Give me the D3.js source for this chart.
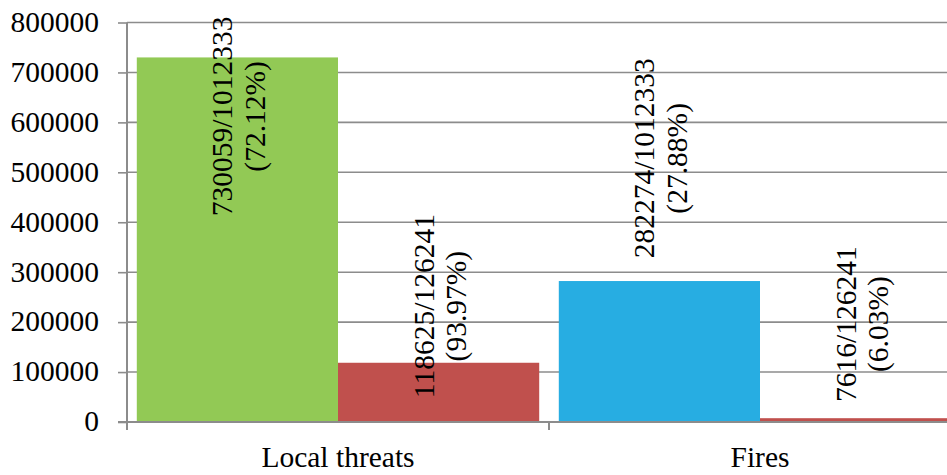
<!DOCTYPE html>
<html>
<head>
<meta charset="utf-8">
<script src="https://cdn.jsdelivr.net/npm/d3@7"></script>
<style>
  html, body { margin: 0; padding: 0; background: #fff; }
  svg { display: block; }
  text { font-family: "Liberation Serif", "Times New Roman", serif; fill: #000; }
</style>
</head>
<body>
<svg id="chart" width="947" height="475"></svg>
<script>
// Categories and the two counts per category
const categories = ["Local threats", "Fires"];
const seriesNames = ["all", "subset"];
const allCounts = [730059, 282274];      // out of 1012333
const subsetCounts = [118625, 7616];     // out of 126241
const yTicks = [0, 100000, 200000, 300000, 400000, 500000, 600000, 700000, 800000];

// Bar fills: first series per category, second series shared
const firstFills = ["#92c955", "#27ade2"];
const secondFill = "#c0504d";

// Where each rotated label is centred, in value units
const labelCentre = {
  all: [612000, 528000],
  subset: [232000, 196000]
};

const W = 947, H = 475;
const left = 127, zeroY = 422, topY = 22.5;
const serif = "'Liberation Serif', 'Times New Roman', serif";
const svg = d3.select("#chart");

const y = d3.scaleLinear().domain([0, 800000]).range([zeroY, topY]);
// The second category runs past the right edge of the frame
const x0 = d3.scaleBand().domain(categories).range([left, left + 2 * 422]).padding(0);
const x1 = d3.scaleBand().domain(seriesNames).range([0, x0.bandwidth()])
  .paddingInner(0).paddingOuter(0.0487);

const grey = "#8c8c8c";

// Horizontal gridlines
svg.append("g")
  .selectAll("line")
  .data(yTicks)
  .join("line")
  .attr("x1", left).attr("x2", W)
  .attr("y1", d => y(d)).attr("y2", d => y(d))
  .attr("stroke", grey).attr("stroke-width", 1.6);

// Rows for bars
const totals = [d3.sum(allCounts), d3.sum(subsetCounts)];
const rows = [];
categories.forEach((c, i) => {
  rows.push({ cat: c, s: "all", v: allCounts[i], total: totals[0], fill: firstFills[i], lc: labelCentre.all[i] });
  rows.push({ cat: c, s: "subset", v: subsetCounts[i], total: totals[1], fill: secondFill, lc: labelCentre.subset[i] });
});

svg.append("g")
  .selectAll("rect")
  .data(rows)
  .join("rect")
  .attr("x", d => x0(d.cat) + x1(d.s))
  .attr("width", x1.bandwidth())
  .attr("y", d => y(d.v))
  .attr("height", d => zeroY - y(d.v))
  .attr("fill", d => d.fill);

// Y axis
const yAxis = d3.axisLeft(y).tickValues(yTicks).tickSizeInner(9).tickSizeOuter(0).tickPadding(19)
  .tickFormat(d3.format("d"));
const gy = svg.append("g").attr("transform", `translate(${left},0)`).call(yAxis)
  .attr("font-family", null).attr("font-size", null);
gy.select(".domain").remove();
gy.selectAll(".tick line").attr("stroke", grey).attr("stroke-width", 1.6);
gy.selectAll(".tick text").style("font-size", "29.5px").attr("dy", "0.30em")
  .style("font-family", serif).attr("fill", "#000");

// Axis lines
svg.append("line")
  .attr("x1", left).attr("x2", left).attr("y1", topY).attr("y2", zeroY + 8)
  .attr("stroke", grey).attr("stroke-width", 2);
svg.append("line")
  .attr("x1", left - 9).attr("x2", W).attr("y1", zeroY).attr("y2", zeroY)
  .attr("stroke", grey).attr("stroke-width", 2);

// Category boundary ticks
const bounds = categories.map(c => x0(c) + x0.bandwidth());
svg.append("g")
  .selectAll("line")
  .data(bounds)
  .join("line")
  .attr("x1", d => d).attr("x2", d => d)
  .attr("y1", zeroY).attr("y2", zeroY + 8)
  .attr("stroke", grey).attr("stroke-width", 2);

// Category labels
svg.append("g")
  .selectAll("text")
  .data(categories)
  .join("text")
  .attr("x", d => x0(d) + x0.bandwidth() / 2)
  .attr("y", 467)
  .attr("text-anchor", "middle")
  .style("font-size", "29.5px")
  .style("font-family", serif)
  .text(d => d);

// Rotated value labels: count/total and share
const pct = d3.format(".2f");
const lab = svg.append("g")
  .selectAll("g")
  .data(rows)
  .join("g")
  .attr("transform", d => `translate(${x0(d.cat) + x1(d.s) + x1.bandwidth() / 2},${y(d.lc)}) rotate(-90)`);
lab.append("text")
  .attr("text-anchor", "middle")
  .attr("y", -5)
  .style("font-size", "29.5px")
  .style("font-family", serif)
  .text(d => `${d.v}/${d.total}`);
lab.append("text")
  .attr("text-anchor", "middle")
  .attr("y", 27.5)
  .style("font-size", "29.5px")
  .style("font-family", serif)
  .text(d => `(${pct(d.v / d.total * 100)}%)`);
</script>
</body>
</html>
